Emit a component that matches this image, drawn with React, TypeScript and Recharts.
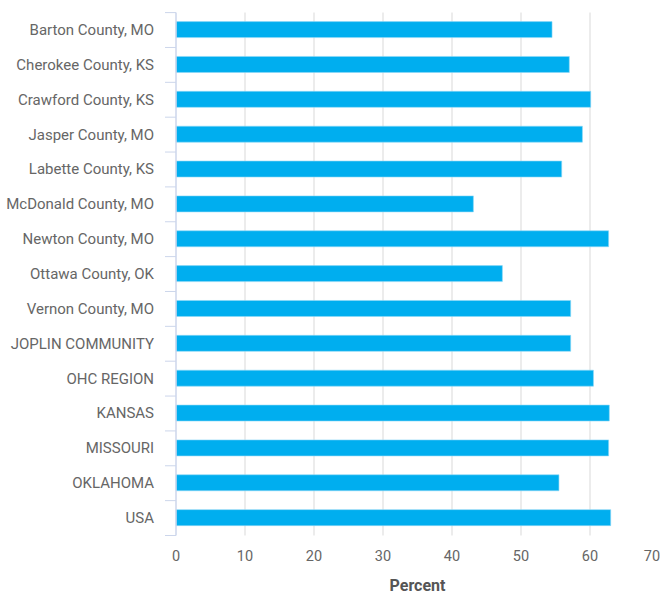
import React from 'react';
import { BarChart, Bar, XAxis, YAxis, CartesianGrid, Label } from 'recharts';

const categories = [
  'Barton County, MO',
  'Cherokee County, KS',
  'Crawford County, KS',
  'Jasper County, MO',
  'Labette County, KS',
  'McDonald County, MO',
  'Newton County, MO',
  'Ottawa County, OK',
  'Vernon County, MO',
  'JOPLIN COMMUNITY',
  'OHC REGION',
  'KANSAS',
  'MISSOURI',
  'OKLAHOMA',
  'USA',
];

const values = [54.5, 57.0, 60.1, 58.9, 55.9, 43.1, 62.7, 47.3, 57.2, 57.2, 60.5, 62.8, 62.7, 55.5, 63.0];

const xTicks = [0, 10, 20, 30, 40, 50, 60, 70];

const data = categories.map((name, i) => ({ name, value: values[i] }));

const W = 660;
const H = 594;
const TOP = 12.6;
const XAXIS_H = 58.5;
const YAXIS_W = 176;
const BAND = (H - TOP - XAXIS_H) / categories.length;
const FONT = 'Roboto, "Noto Sans", sans-serif';
const AXIS_COLOR = '#ccd6eb';

const YTick = (props: any) => {
  const { y, payload, index } = props;
  return (
    <g>
      <text x={YAXIS_W - 22} y={y} textAnchor="end" dominantBaseline="central" fill="#666666" fontSize={15} fontFamily={FONT}>
        {payload.value}
      </text>
      <line x1={YAXIS_W - 11} x2={YAXIS_W} y1={y - BAND / 2} y2={y - BAND / 2} stroke={AXIS_COLOR} strokeWidth={1} />
      {index === categories.length - 1 && (
        <line x1={YAXIS_W - 11} x2={YAXIS_W} y1={y + BAND / 2} y2={y + BAND / 2} stroke={AXIS_COLOR} strokeWidth={1} />
      )}
    </g>
  );
};

const XTick = (props: any) => {
  const { x, payload, index } = props;
  const last = index === xTicks.length - 1;
  return (
    <text x={last ? x - 7 : x} y={H - XAXIS_H + 20.5} textAnchor="middle" dominantBaseline="central" fill="#666666" fontSize={14.5} fontFamily={FONT}>
      {payload.value}
    </text>
  );
};

export default function App() {
  return (
    <div style={{ position: 'absolute', left: 0, top: 0, width: W, height: H, background: '#ffffff' }}>
      <BarChart width={W} height={H} layout="vertical" data={data} margin={{ top: TOP, right: 1, bottom: 0, left: 0 }} barSize={16}>
        <CartesianGrid horizontal={false} vertical={true} verticalValues={xTicks.slice(1, -1)} stroke="#e6e6e6" strokeWidth={1.5} />
        <XAxis
          type="number"
          domain={[0, 70]}
          ticks={xTicks}
          axisLine={false}
          tickLine={false}
          height={XAXIS_H}
          tick={<XTick />}
          interval={0}
        >
          <Label value="Percent" position="insideBottom" offset={3} fill="#555555" fontSize={16} fontWeight="bold" fontFamily={FONT} />
        </XAxis>
        <YAxis
          type="category"
          dataKey="name"
          width={YAXIS_W}
          axisLine={{ stroke: AXIS_COLOR, strokeWidth: 1.5 }}
          tickLine={false}
          tick={<YTick />}
          interval={0}
        />
        <Bar dataKey="value" fill="#00AEEF" stroke="#8fd8f7" strokeWidth={0.6} isAnimationActive={false} />
      </BarChart>
    </div>
  );
}
